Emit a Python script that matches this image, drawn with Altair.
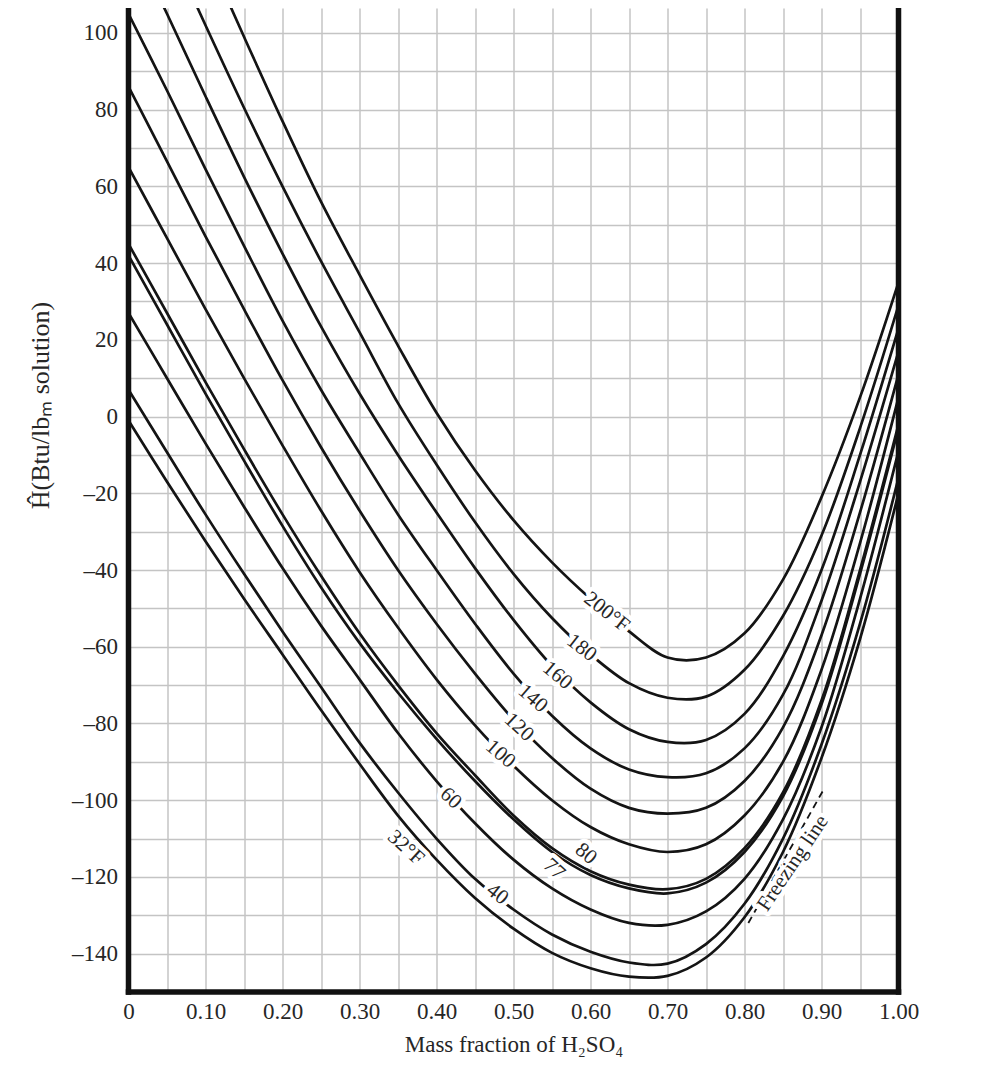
import altair as alt
import pandas as pd

# ---------------- data ----------------
X_FRAC = [0.00, 0.05, 0.10, 0.15, 0.20, 0.25, 0.30, 0.35, 0.40, 0.45, 0.50,
          0.55, 0.60, 0.65, 0.70, 0.75, 0.80, 0.85, 0.90, 0.95, 1.00]

H_32 = [-1, -17, -32.5, -47.5, -62, -76.5, -90.5, -104, -115.5, -125.5, -133.5,
        -139.8, -143.8, -146, -145.8, -141, -130.5, -113.5, -89, -58, -20]
H_40 = [7, -9.3, -25.5, -41, -56, -70.5, -85, -98, -110, -120.5, -128.5,
        -135, -139.5, -142.3, -142.6, -137.5, -127, -110, -85.5, -54, -16]
H_60 = [27, 10, -7, -23.5, -39.5, -54.5, -68.5, -82.5, -95, -106, -115.5,
        -123, -128.5, -132, -132.5, -129, -120.5, -105, -81, -47.5, -9]
H_77 = [42, 24, 6, -11.5, -28.5, -44.5, -59, -72, -84, -95, -105,
        -113.5, -119.5, -123, -124.3, -121.5, -113.5, -99, -75, -41, -3]
H_80 = [45, 27, 9, -8.5, -25.5, -41.5, -56.5, -70, -82.5, -93.5, -104,
        -112.5, -118.5, -122, -123.2, -120.5, -112.5, -98, -74, -40, -2]
H_100 = [65, 46.5, 28, 10, -7.5, -24.5, -40.5, -55, -68.5, -80.5, -91,
         -100, -107, -111.5, -113.5, -111.5, -104, -90, -66, -33, 5]
H_120 = [86, 66.5, 47, 28, 9.5, -8, -24.5, -40, -54, -67, -79,
         -89, -97, -102, -103.5, -102, -95, -81, -57, -25, 11]
H_140 = [105, 85, 64.5, 44.5, 25, 7, -9.5, -25.5, -40, -54, -67,
         -78, -86.5, -92, -94, -93, -86.5, -72.5, -48, -17, 17]
H_160 = [126, 105, 83.5, 62.5, 42.5, 23.5, 6, -10, -25, -39.5, -53,
         -65, -74.5, -81.5, -84.8, -84.3, -77.5, -62.5, -40, -10, 23]
H_180 = [146, 124, 102, 80.5, 60, 40.5, 22, 3.5, -12.5, -27.5, -41,
         -52.5, -62, -69.5, -73.3, -73, -66, -52, -31, -3, 29]
H_200 = [166, 144, 121.5, 99, 77, 56, 37, 18.5, 1, -14, -27,
         -38, -47.5, -56, -62.8, -62.8, -56.5, -42.5, -21, 5, 35]

TEMPS = ["32", "40", "60", "77", "80", "100", "120", "140", "160", "180", "200"]
SERIES = [H_32, H_40, H_60, H_77, H_80, H_100, H_120, H_140, H_160, H_180, H_200]

# curve labels
LABEL_TEXT = ["200°F", "180", "160", "140", "120", "100", "80", "77", "60", "40", "32°F"]
LABEL_X = [0.621, 0.5885, 0.557, 0.525, 0.507, 0.483, 0.594, 0.5526, 0.4184, 0.479, 0.360]
LABEL_H = [-51.0, -60.3, -67.5, -73.5, -81.0, -88.0, -114.0, -118.0, -99.5, -124.5, -112.4]
LABEL_ANGLE = [38, 38, 40, 41, 43, 41, 40, 42, 43, 38, 42]

# freezing line
FREEZE_X = [0.805, 0.902]
FREEZE_H = [-132, -97.5]
FREEZE_LABEL = ["Freezing line"]
FREEZE_LABEL_X = [0.863]
FREEZE_LABEL_H = [-116.4]
FREEZE_LABEL_ANGLE = [304]

# axes
X_DOMAIN = [0, 1]
Y_DOMAIN = [-150, 106.5]
X_GRID = [0, 0.05, 0.1, 0.15, 0.2, 0.25, 0.3, 0.35, 0.4, 0.45, 0.5,
          0.55, 0.6, 0.65, 0.7, 0.75, 0.8, 0.85, 0.9, 0.95, 1.0]
Y_GRID = [-150, -140, -130, -120, -110, -100, -90, -80, -70, -60, -50, -40, -30,
          -20, -10, 0, 10, 20, 30, 40, 50, 60, 70, 80, 90, 100]
X_TITLE = "Mass fraction of H₂SO₄"
Y_TITLE = "Ĥ(Btu/lbₘ solution)"

# ---------------- tables ----------------
rows = []
for t, vals in zip(TEMPS, SERIES):
    for xv, hv in zip(X_FRAC, vals):
        rows.append({"T": t, "x": xv, "H": hv})
curves_df = pd.DataFrame(rows)

labels_df = pd.DataFrame({"x": LABEL_X, "H": LABEL_H, "text": LABEL_TEXT, "angle": LABEL_ANGLE})
freeze_df = pd.DataFrame({"x": FREEZE_X, "H": FREEZE_H})
freeze_lab_df = pd.DataFrame({"x": FREEZE_LABEL_X, "H": FREEZE_LABEL_H,
                              "text": FREEZE_LABEL, "angle": FREEZE_LABEL_ANGLE})
vframe_df = pd.DataFrame({"x": X_DOMAIN})
hframe_df = pd.DataFrame({"H": [Y_DOMAIN[0]]})

SERIF = "Liberation Serif"
TXT = "#262626"

x_enc = alt.X(
    "x:Q",
    scale=alt.Scale(domain=X_DOMAIN, nice=False, zero=False),
    axis=alt.Axis(
        values=X_GRID, title=X_TITLE, grid=True, ticks=False, domain=False,
        labelExpr="abs(round(datum.value * 100) % 10) == 0 ? (datum.value == 0 ? '0' : format(datum.value, '.2f')) : ''",
        labelFlush=False, labelOverlap=False, labelPadding=8, titlePadding=10,
        labelFont=SERIF, labelFontSize=23, labelColor=TXT,
        titleFont=SERIF, titleFontSize=23, titleFontWeight="normal", titleColor=TXT,
        gridColor="#c4c4c4", gridWidth=1.5,
    ),
)
y_enc = alt.Y(
    "H:Q",
    scale=alt.Scale(domain=Y_DOMAIN, nice=False, zero=False),
    axis=alt.Axis(
        values=Y_GRID, title=Y_TITLE, grid=True, ticks=False, domain=False,
        labelExpr="datum.value % 20 == 0 ? (datum.value < 0 ? '–' + format(-datum.value, 'd') : format(datum.value, 'd')) : ''",
        labelOverlap=False, labelPadding=11,
        labelFont=SERIF, labelFontSize=23, labelColor=TXT,
        titleFont=SERIF, titleFontSize=26, titleFontWeight="normal", titleColor=TXT,
        titleX=-88.5, titleY=397, titleAlign="center", titleBaseline="middle", titleAngle=270,
        gridColor="#c4c4c4", gridWidth=1.5,
    ),
)

curves = alt.Chart(curves_df).mark_line(
    clip=True, interpolate="catmull-rom", color="#141414", strokeWidth=2.7
).encode(x=x_enc, y=y_enc, detail="T:N")

freeze = alt.Chart(freeze_df).mark_line(
    clip=True, color="#141414", strokeWidth=1.8, strokeDash=[7, 5]
).encode(x=x_enc, y=y_enc)

def text_layers(df, size):
    halo = alt.Chart(df).mark_text(
        font=SERIF, fontSize=size, fill="white", stroke="white", strokeWidth=9,
        strokeJoin="round", align="center", baseline="middle"
    ).encode(x=x_enc, y=y_enc, text="text:N", angle=alt.Angle("angle:Q", scale=None))
    txt = alt.Chart(df).mark_text(
        font=SERIF, fontSize=size, fill=TXT, align="center", baseline="middle"
    ).encode(x=x_enc, y=y_enc, text="text:N", angle=alt.Angle("angle:Q", scale=None))
    return halo, txt

lab_halo, lab_txt = text_layers(labels_df, 21)
fr_halo, fr_txt = text_layers(freeze_lab_df, 21)

vframe = alt.Chart(vframe_df).mark_rule(color="#111", strokeWidth=5.5, strokeCap="square").encode(x=x_enc)
hframe = alt.Chart(hframe_df).mark_rule(color="#111", strokeWidth=5.5, strokeCap="square").encode(y=y_enc)

chart = alt.layer(
    curves, freeze, lab_halo, fr_halo, lab_txt, fr_txt, vframe, hframe
).properties(
    width=770, height=984,
    padding={"left": 120.5, "top": 0, "right": 60, "bottom": 80},
    autosize=alt.AutoSizeParams(type="none"),
    background="white",
).configure_view(stroke=None)

chart.save("out.html", embed_options={"renderer": "svg", "actions": False})
